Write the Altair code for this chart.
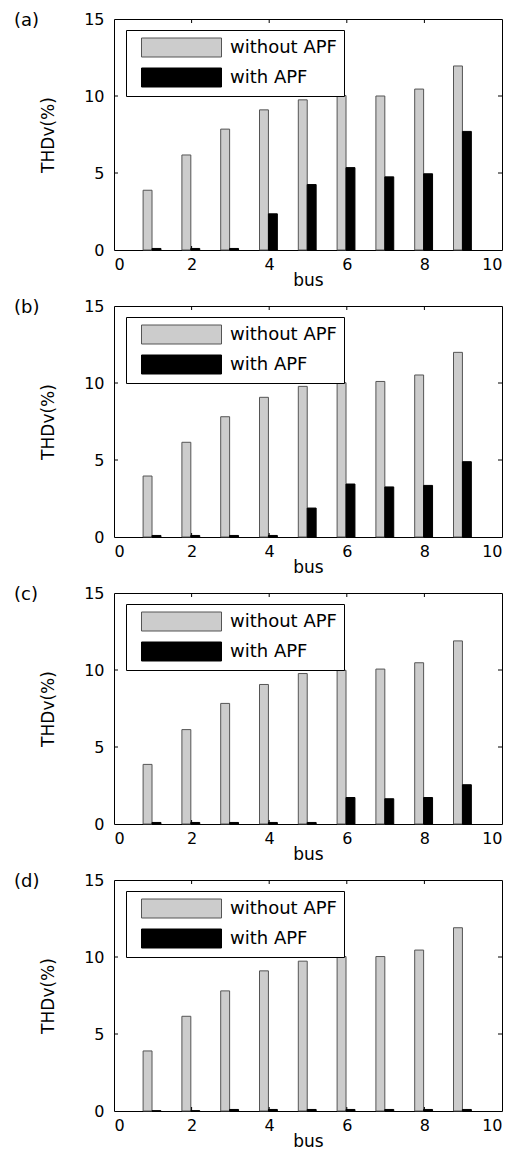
import altair as alt
import pandas as pd

buses = [1, 2, 3, 4, 5, 6, 7, 8, 9]
series_names = ["without APF", "with APF"]
panel_labels = ["(a)", "(b)", "(c)", "(d)"]

without_a = [3.88, 6.17, 7.85, 9.1, 9.75, 10.03, 10.0, 10.45, 11.95]
with_a = [0.1, 0.1, 0.1, 2.35, 4.25, 5.35, 4.75, 4.95, 7.7]
without_b = [3.96, 6.15, 7.81, 9.07, 9.78, 10.02, 10.1, 10.52, 11.99]
with_b = [0.1, 0.1, 0.1, 0.1, 1.88, 3.44, 3.25, 3.35, 4.89]
without_c = [3.87, 6.13, 7.83, 9.06, 9.77, 9.98, 10.06, 10.47, 11.89]
with_c = [0.1, 0.1, 0.1, 0.1, 0.1, 1.72, 1.64, 1.72, 2.55]
without_d = [3.9, 6.15, 7.8, 9.1, 9.73, 10.03, 10.03, 10.45, 11.9]
with_d = [0.02, 0.02, 0.1, 0.1, 0.1, 0.1, 0.1, 0.1, 0.1]

x_ticks = [0, 2, 4, 6, 8, 10]
y_ticks = [0, 5, 10, 15]
x_inner_ticks = [2, 4, 6, 8]
y_inner_ticks = [5, 10]

W, H = 388, 231
FONT = "DejaVu Sans"

X_AXIS = alt.Axis(values=x_ticks, title="bus", labelPadding=6, titlePadding=0)
Y_AXIS = alt.Axis(values=y_ticks, title="THDv(%)", labelPadding=10, titlePadding=26)
X_SCALE = alt.Scale(domain=[0, 10], nice=False, zero=False)
Y_SCALE = alt.Scale(domain=[0, 15], nice=False)


def panel(label, wo, wi):
    df = pd.DataFrame({
        "bus": buses * 2,
        "series": [series_names[0]] * len(buses) + [series_names[1]] * len(buses),
        "value": wo + wi,
    })
    base = alt.Chart(df).transform_calculate(
        x0="datum.bus + (datum.series == 'without APF' ? -0.25 : -0.02)",
        x1="datum.bus + (datum.series == 'without APF' ? -0.02 : 0.21)",
    )
    bars = base.mark_rect(strokeWidth=1).encode(
        x=alt.X("x0:Q", scale=X_SCALE, axis=X_AXIS),
        x2="x1:Q",
        y=alt.Y("value:Q", scale=Y_SCALE, axis=Y_AXIS),
        y2=alt.datum(0),
        color=alt.Color("series:N",
                        scale=alt.Scale(domain=series_names, range=["#cccccc", "#000000"]),
                        legend=alt.Legend(
                            title=None, orient="none", legendX=12, legendY=11,
                            symbolType="M-1,-0.95H7V0.95H-1Z", symbolSize=400,
                            symbolStrokeColor="#555555", symbolStrokeWidth=1,
                            symbolOffset=8, labelOffset=68, rowPadding=7,
                            padding=7, strokeColor="black", fillColor="white",
                            labelFont=FONT, labelFontSize=18, labelColor="black",
                            labelLimit=300)),
        stroke=alt.Stroke("series:N",
                          scale=alt.Scale(domain=series_names, range=["#555555", "#000000"]),
                          legend=None),
    )
    ydf = pd.DataFrame({"value": y_inner_ticks})
    xdf = pd.DataFrame({"x0": x_inner_ticks})
    left_t = alt.Chart(ydf).mark_rule(color="black").encode(
        y=alt.Y("value:Q", scale=Y_SCALE, axis=Y_AXIS), x=alt.value(0), x2=alt.value(4))
    right_t = alt.Chart(ydf).mark_rule(color="black").encode(
        y=alt.Y("value:Q", scale=Y_SCALE, axis=Y_AXIS), x=alt.value(W - 4), x2=alt.value(W))
    bot_t = alt.Chart(xdf).mark_rule(color="black").encode(
        x=alt.X("x0:Q", scale=X_SCALE, axis=X_AXIS), y=alt.value(H), y2=alt.value(H - 4))
    top_t = alt.Chart(xdf).mark_rule(color="black").encode(
        x=alt.X("x0:Q", scale=X_SCALE, axis=X_AXIS), y=alt.value(0), y2=alt.value(4))
    lab = alt.Chart(pd.DataFrame({"label": [label]})).mark_text(
        align="left", baseline="alphabetic", font=FONT, fontSize=18, color="black"
    ).encode(text="label:N", x=alt.value(-100), y=alt.value(7))
    return alt.layer(bars, left_t, right_t, bot_t, top_t, lab).properties(width=W, height=H)


chart = alt.vconcat(
    panel(panel_labels[0], without_a, with_a),
    panel(panel_labels[1], without_b, with_b),
    panel(panel_labels[2], without_c, with_c),
    panel(panel_labels[3], without_d, with_d),
    spacing=8,
).resolve_legend(
    color="independent", stroke="independent"
).properties(
    padding={"left": 5, "top": 2, "right": 5, "bottom": 5}
).configure_view(
    stroke="black", strokeWidth=1
).configure_axis(
    domain=False, ticks=False, grid=False,
    labelFont=FONT, labelFontSize=16, labelColor="black",
    titleFont=FONT, titleFontSize=17, titleColor="black", titleFontWeight="normal",
)

chart.save("out.html", embed_options={"renderer": "svg", "actions": False})
